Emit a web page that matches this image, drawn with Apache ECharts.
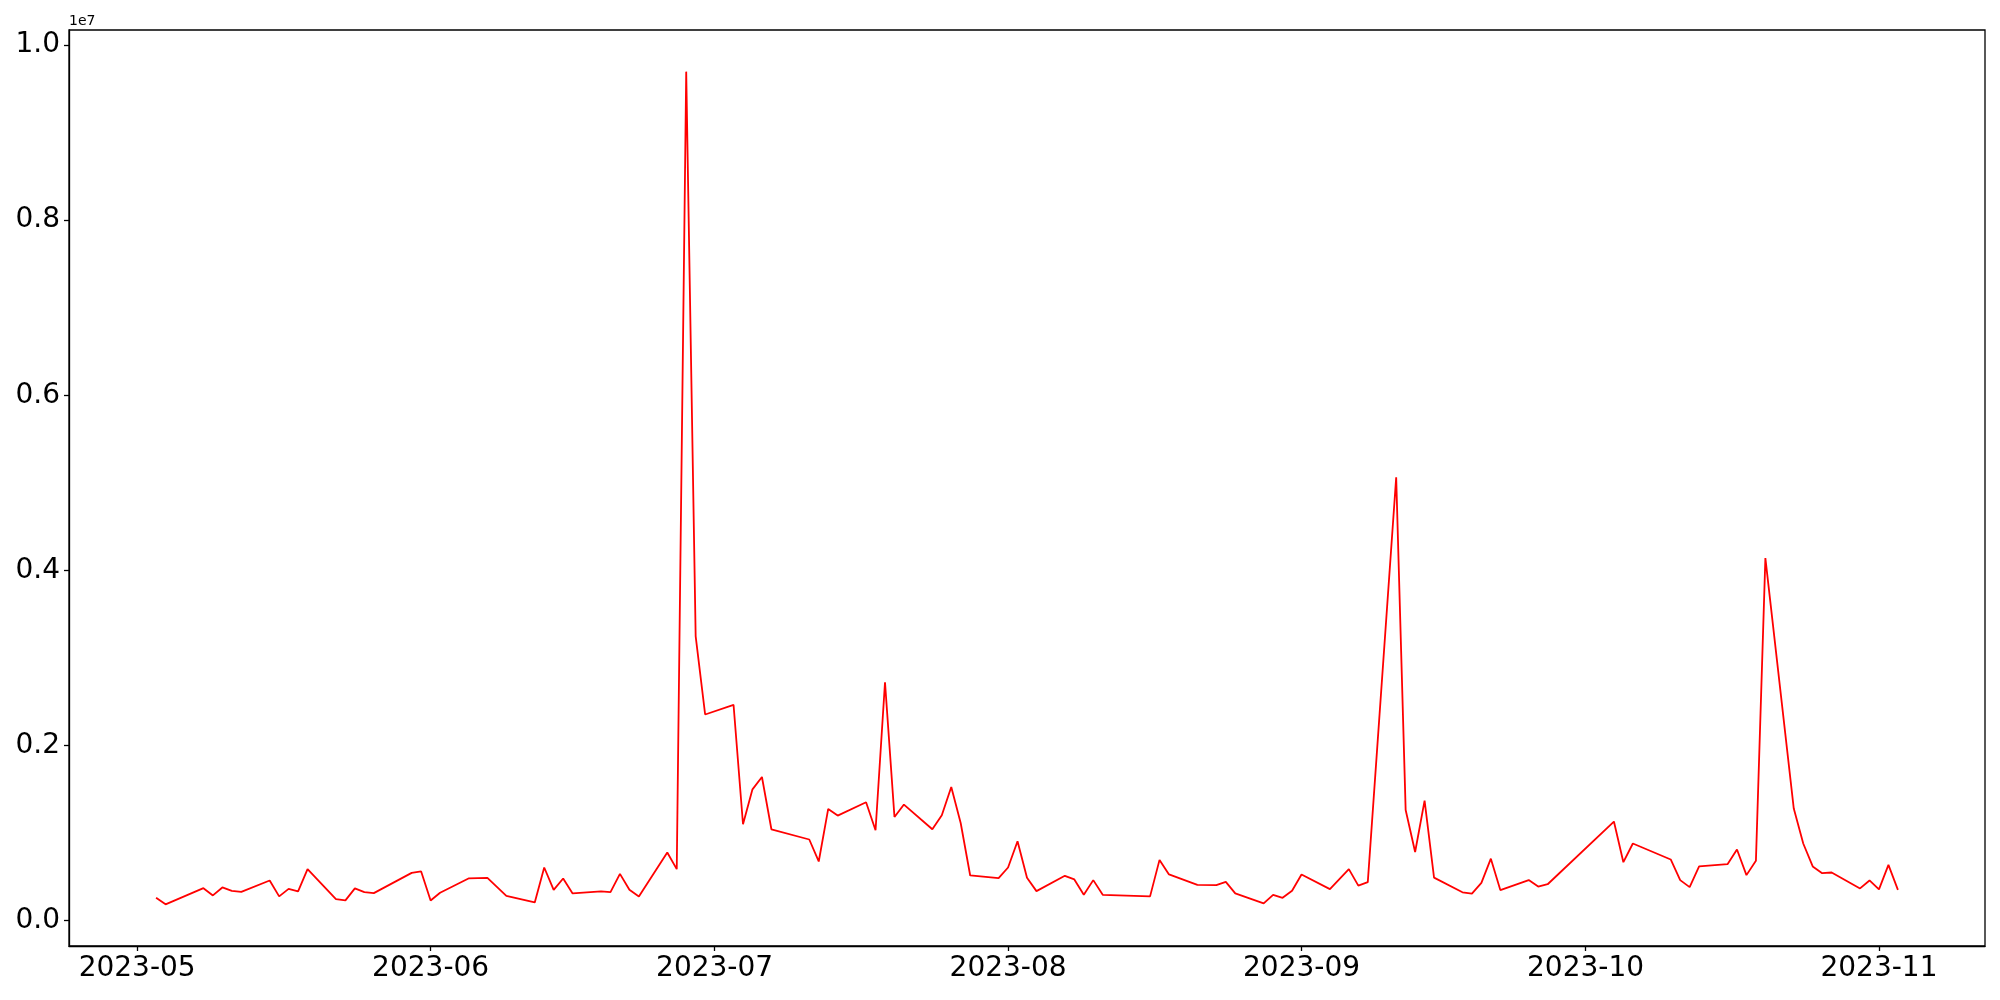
<!DOCTYPE html>
<html>
<head>
<meta charset="utf-8">
<script src="https://cdn.jsdelivr.net/npm/echarts@6/dist/echarts.min.js"></script>
<style>
  html, body { margin: 0; padding: 0; background: #fff; }
  #main { width: 2000px; height: 1000px; }
</style>
</head>
<body>
<div id="main"></div>
<script>
// dates (2023) and values, values in units of 1e6
var dates = [
  "2023-05-03", "2023-05-04", "2023-05-08", "2023-05-09", "2023-05-10", "2023-05-11", "2023-05-12",
  "2023-05-15", "2023-05-16", "2023-05-17", "2023-05-18", "2023-05-19",
  "2023-05-22", "2023-05-23", "2023-05-24", "2023-05-25", "2023-05-26",
  "2023-05-30", "2023-05-31", "2023-06-01", "2023-06-02",
  "2023-06-05", "2023-06-07", "2023-06-09",
  "2023-06-12", "2023-06-13", "2023-06-14", "2023-06-15", "2023-06-16",
  "2023-06-19", "2023-06-20", "2023-06-21", "2023-06-22", "2023-06-23",
  "2023-06-26", "2023-06-27", "2023-06-28", "2023-06-29", "2023-06-30",
  "2023-07-03", "2023-07-04", "2023-07-05", "2023-07-06", "2023-07-07",
  "2023-07-11", "2023-07-12", "2023-07-13", "2023-07-14",
  "2023-07-17", "2023-07-18", "2023-07-19", "2023-07-20", "2023-07-21",
  "2023-07-24", "2023-07-25", "2023-07-26", "2023-07-27", "2023-07-28",
  "2023-07-31", "2023-08-01", "2023-08-02", "2023-08-03", "2023-08-04",
  "2023-08-07", "2023-08-08", "2023-08-09", "2023-08-10", "2023-08-11",
  "2023-08-16", "2023-08-17", "2023-08-18",
  "2023-08-21", "2023-08-23", "2023-08-24", "2023-08-25",
  "2023-08-28", "2023-08-29", "2023-08-30", "2023-08-31", "2023-09-01",
  "2023-09-04", "2023-09-06", "2023-09-07", "2023-09-08",
  "2023-09-11", "2023-09-12", "2023-09-13", "2023-09-14", "2023-09-15",
  "2023-09-18", "2023-09-19", "2023-09-20", "2023-09-21", "2023-09-22",
  "2023-09-25", "2023-09-26", "2023-09-27",
  "2023-10-04", "2023-10-05", "2023-10-06",
  "2023-10-10", "2023-10-11", "2023-10-12", "2023-10-13",
  "2023-10-16", "2023-10-17", "2023-10-18", "2023-10-19", "2023-10-20",
  "2023-10-23", "2023-10-24", "2023-10-25", "2023-10-26", "2023-10-27",
  "2023-10-30", "2023-10-31", "2023-11-01", "2023-11-02", "2023-11-03"
];

var valuesM = [
  0.259, 0.184, 0.369, 0.286, 0.377, 0.339, 0.327,
  0.457, 0.275, 0.361, 0.332, 0.586,
  0.244, 0.229, 0.366, 0.324, 0.312,
  0.544, 0.560, 0.229, 0.316,
  0.480, 0.487, 0.282,
  0.206, 0.605, 0.350, 0.480, 0.309,
  0.332, 0.324, 0.532, 0.350, 0.275,
  0.776, 0.586, 9.697, 3.246, 2.353,
  2.464, 1.099, 1.498, 1.639, 1.042,
  0.925, 0.674, 1.274, 1.198,
  1.350, 1.031, 2.722, 1.182, 1.324,
  1.042, 1.202, 1.525, 1.111, 0.514,
  0.483, 0.605, 0.905, 0.487, 0.335,
  0.510, 0.469, 0.293, 0.461, 0.293,
  0.275, 0.692, 0.526,
  0.407, 0.404, 0.441, 0.309,
  0.195, 0.293, 0.259, 0.339, 0.526,
  0.358, 0.586, 0.398, 0.438,
  5.064, 1.262, 0.782, 1.369, 0.490,
  0.322, 0.306, 0.430, 0.706, 0.347,
  0.462, 0.387, 0.414,
  1.130, 0.666, 0.879,
  0.697, 0.461, 0.381, 0.617,
  0.643, 0.811, 0.518, 0.681, 4.140,
  1.278, 0.879, 0.617, 0.540, 0.548,
  0.366, 0.457, 0.355, 0.635, 0.350
];

// axis ticks
var xTickLabels = ["2023-05", "2023-06", "2023-07", "2023-08", "2023-09", "2023-10", "2023-11"];
var yTickValues = [0, 2e6, 4e6, 6e6, 8e6, 1e7];

function toTime(s) {
  var p = s.split("-");
  return Date.UTC(+p[0], +p[1] - 1, p[2] ? +p[2] : 1);
}

var seriesData = dates.map(function (d, i) {
  return [toTime(d), valuesM[i] * 1e6];
});

// matplotlib-like 5% margins
var tFirst = seriesData[0][0];
var tLast = seriesData[seriesData.length - 1][0];
var tPad = (tLast - tFirst) * 0.05;
var vMax = Math.max.apply(null, valuesM) * 1e6;
var vMin = Math.min.apply(null, valuesM) * 1e6;
var vPad = (vMax - vMin) * 0.05;

var xTicks = xTickLabels.map(toTime);
var font = "DejaVu Sans";

var option = {
  animation: false,
  grid: {
    left: 69,
    right: 15,
    top: 30,
    bottom: 54,
    show: true,
    borderColor: "#000",
    borderWidth: 1.3,
    backgroundColor: "transparent"
  },
  xAxis: {
    type: "value",
    min: tFirst - tPad,
    max: tLast + tPad,
    axisLine: { show: true, onZero: false, lineStyle: { color: "#000", width: 1.3 } },
    axisTick: {
      show: true,
      length: 5,
      customValues: xTicks,
      lineStyle: { color: "#000", width: 1.3 }
    },
    axisLabel: {
      customValues: xTicks,
      color: "#000",
      fontFamily: font,
      fontSize: 28,
      margin: 9,
      formatter: function (v) {
        var i = xTicks.indexOf(v);
        return i >= 0 ? xTickLabels[i] : "";
      }
    },
    splitLine: { show: false }
  },
  yAxis: {
    type: "value",
    min: vMin - vPad,
    max: vMax + vPad,
    axisLine: { show: true, onZero: false, lineStyle: { color: "#000", width: 1.3 } },
    axisTick: {
      show: true,
      length: 5,
      customValues: yTickValues,
      lineStyle: { color: "#000", width: 1.3 }
    },
    axisLabel: {
      customValues: yTickValues,
      color: "#000",
      fontFamily: font,
      fontSize: 28,
      margin: 9,
      formatter: function (v) {
        return (v / 1e7).toFixed(1);
      }
    },
    splitLine: { show: false }
  },
  graphic: [
    {
      type: "text",
      left: 69,
      top: 14,
      style: { text: "1e7", font: "14px DejaVu Sans", fill: "#000" }
    }
  ],
  series: [
    {
      type: "line",
      data: seriesData,
      showSymbol: false,
      symbol: "none",
      lineStyle: { color: "#ff0000", width: 1.8 },
      itemStyle: { color: "#ff0000" }
    }
  ]
};

var chart = echarts.init(document.getElementById("main"));
chart.setOption(option);
</script>
</body>
</html>
